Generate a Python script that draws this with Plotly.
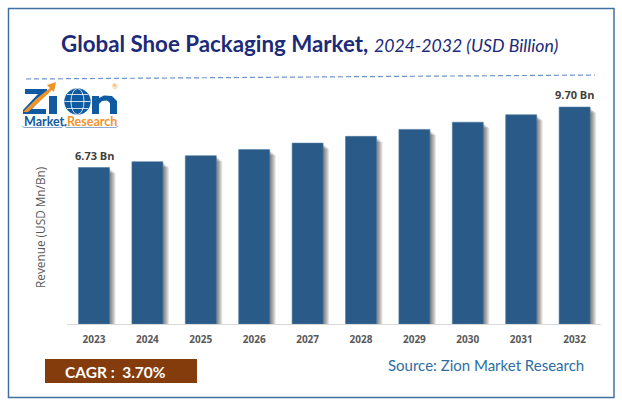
import plotly.graph_objects as go

W, H = 622, 407

years = ["2023", "2024", "2025", "2026", "2027", "2028", "2029", "2030", "2031", "2032"]
revenue = [6.73, 6.98, 7.24, 7.50, 7.78, 8.07, 8.37, 8.68, 9.00, 9.33]
bar_labels = ["6.73 Bn", "", "", "", "", "", "", "", "", "9.70 Bn"]

BAR = "#2a5a87"
NAVY = "#1c2a78"
LOGO_BLUE = "#0f5aa0"
ORANGE = "#f0942a"


def px(x):
    return x / W


def py(y):
    return 1 - y / H


def path(points, close=True):
    s = "M" + " L".join(f"{px(x):.5f},{py(y):.5f}" for x, y in points)
    return s + (" Z" if close else "")


fig = go.Figure()

# soft shadow to the right of each bar
BAR_W = 0.58
for i in range(1, 7):
    fig.add_trace(go.Bar(
        x=years,
        y=[v - 0.03 - 0.035 * i for v in revenue],
        width=BAR_W,
        offset=-BAR_W / 2 + i * 1.0 / 53.4,
        marker=dict(color="rgba(0,0,0,0.10)", line_width=0),
        hoverinfo="skip",
        showlegend=False,
    ))

fig.add_trace(go.Bar(
    x=years,
    y=revenue,
    width=BAR_W,
    offset=-BAR_W / 2,
    marker=dict(color=BAR, line=dict(color="#4d7aa3", width=0.6)),
    showlegend=False,
))

shapes = [
    # frame
    dict(type="rect", xref="paper", yref="paper", x0=px(8.5), x1=px(614), y0=py(8.5), y1=py(397.5),
         line=dict(color="#41709f", width=1.5), fillcolor="rgba(0,0,0,0)", layer="below"),
    # dashed rule under the title
    dict(type="line", xref="paper", yref="paper", x0=px(26), x1=px(595), y0=py(79), y1=py(75),
         line=dict(color="#6f93d6", width=1.2, dash="5px,3px")),
    # CAGR box
    dict(type="rect", xref="paper", yref="paper", x0=px(45), x1=px(197), y0=py(359), y1=py(383),
         line_width=0, fillcolor="#843c0c"),
]


def logo(d, fill=None, line=None, width=0):
    s = dict(type="path", xref="paper", yref="paper", path=d, line=dict(color=line or "rgba(0,0,0,0)", width=width))
    s["fillcolor"] = fill or "rgba(0,0,0,0)"
    shapes.append(s)


# Z
logo(path([(25, 89), (47, 89), (47, 93), (32, 109), (46, 109), (46, 114), (23, 114), (23, 110), (38, 94), (25, 94)]), LOGO_BLUE)
# i
logo(path([(49, 96), (57, 96), (57, 114), (49, 114)]), LOGO_BLUE)
# orange swoosh and arrow head
logo(path([(23, 112), (36, 99), (50, 88), (47, 85), (56, 82), (54, 92), (52, 90), (38, 103), (28, 112)]), ORANGE)
# globe
shapes.append(dict(type="circle", xref="paper", yref="paper", x0=px(64.5), x1=px(90.5), y0=py(88.5), y1=py(114.5),
                   fillcolor=LOGO_BLUE, line=dict(color=LOGO_BLUE, width=0.5)))
shapes.append(dict(type="circle", xref="paper", yref="paper", x0=px(71), x1=px(84), y0=py(88.5), y1=py(114.5),
                   fillcolor="rgba(0,0,0,0)", line=dict(color="white", width=0.8)))
logo(path([(64.5, 101.5), (90.5, 101.5)], close=False), line="white", width=0.8)
logo(path([(67, 94.5), (88, 94.5)], close=False), line="white", width=0.8)
logo(path([(67, 108.5), (88, 108.5)], close=False), line="white", width=0.8)
# n
logo(path([(92, 96), (99, 96), (99, 98), (104, 95.5), (112, 96), (117, 101), (117, 114), (110, 114), (110, 103),
           (107, 100.5), (102, 101), (99, 104), (99, 114), (92, 114)]), LOGO_BLUE)
# curved line under the logo wordmark
logo(path([(22, 126), (24, 127.5), (62, 127.5), (64, 125), (66, 127.5), (116, 127.5), (118, 126)], close=False),
     line="#6f93c6", width=0.8)


def note(x, y, text, family, size, color, xanchor="left", textangle=0):
    return dict(x=px(x), y=py(y), xref="paper", yref="paper", xanchor=xanchor, yanchor="middle",
                showarrow=False, text=text, textangle=textangle,
                font=dict(family=family, size=size, color=color))


annotations = [
    note(59, 43.5, "<b>Global Shoe Packaging Market,</b> <span style='font-size:17.7px'><i>2024-2032 (USD Billion)</i></span>",
         "Lato", 22.3, NAVY),
    note(40, 228, "Revenue (USD Mn/Bn)", "Open Sans", 11.8, "#595959", xanchor="center", textangle=-90),
    note(63, 371.5, "<b>CAGR :  3.70%</b>", "Lato", 15.5, "white"),
    note(386, 365, "Source: Zion Market Research", "Lato", 15, "#2e6da4"),
    note(21.5, 122, "<b>Market</b>", "Lato", 12.5, LOGO_BLUE),
    note(61.5, 122, "<b>.</b>", "Lato", 12.5, LOGO_BLUE),
    note(65, 122, "<b>Research</b>", "Lato", 12.5, ORANGE),
    note(115, 86, "®", "Lato", 7, ORANGE, xanchor="center"),
]

# value labels sit just above their bars; x is the category's index on the category axis
for idx, (value, label) in enumerate(zip(revenue, bar_labels)):
    if label:
        annotations.append(dict(x=idx, y=value, xref="x", yref="y", xanchor="center", yanchor="bottom",
                                yshift=3, showarrow=False, text=f"<b>{label}</b>",
                                font=dict(family="Open Sans", size=11, color="#404040")))

fig.update_layout(
    width=W,
    height=H,
    autosize=False,
    margin=dict(l=0, r=0, t=0, b=0),
    paper_bgcolor="white",
    plot_bgcolor="white",
    barmode="overlay",
    showlegend=False,
    shapes=shapes,
    annotations=annotations,
    xaxis=dict(
        domain=[px(67.3), px(601.3)],
        type="category",
        categoryorder="array",
        categoryarray=years,
        range=[-0.5, 9.5],
        showgrid=False,
        ticks="",
        showline=True,
        linecolor="#d9d9d9",
        linewidth=1,
        ticklabelstandoff=6,
        tickfont=dict(family="Open Sans", size=10, color="#595959", weight="bold"),
        fixedrange=True,
    ),
    yaxis=dict(
        domain=[py(324), py(75)],
        range=[0, 249 / 23.25],
        visible=False,
        fixedrange=True,
    ),
)

fig.write_html(
    "out.html",
    config=dict(displayModeBar=False),
    post_script="document.body.style.margin='0';document.documentElement.style.overflow='hidden';",
)
